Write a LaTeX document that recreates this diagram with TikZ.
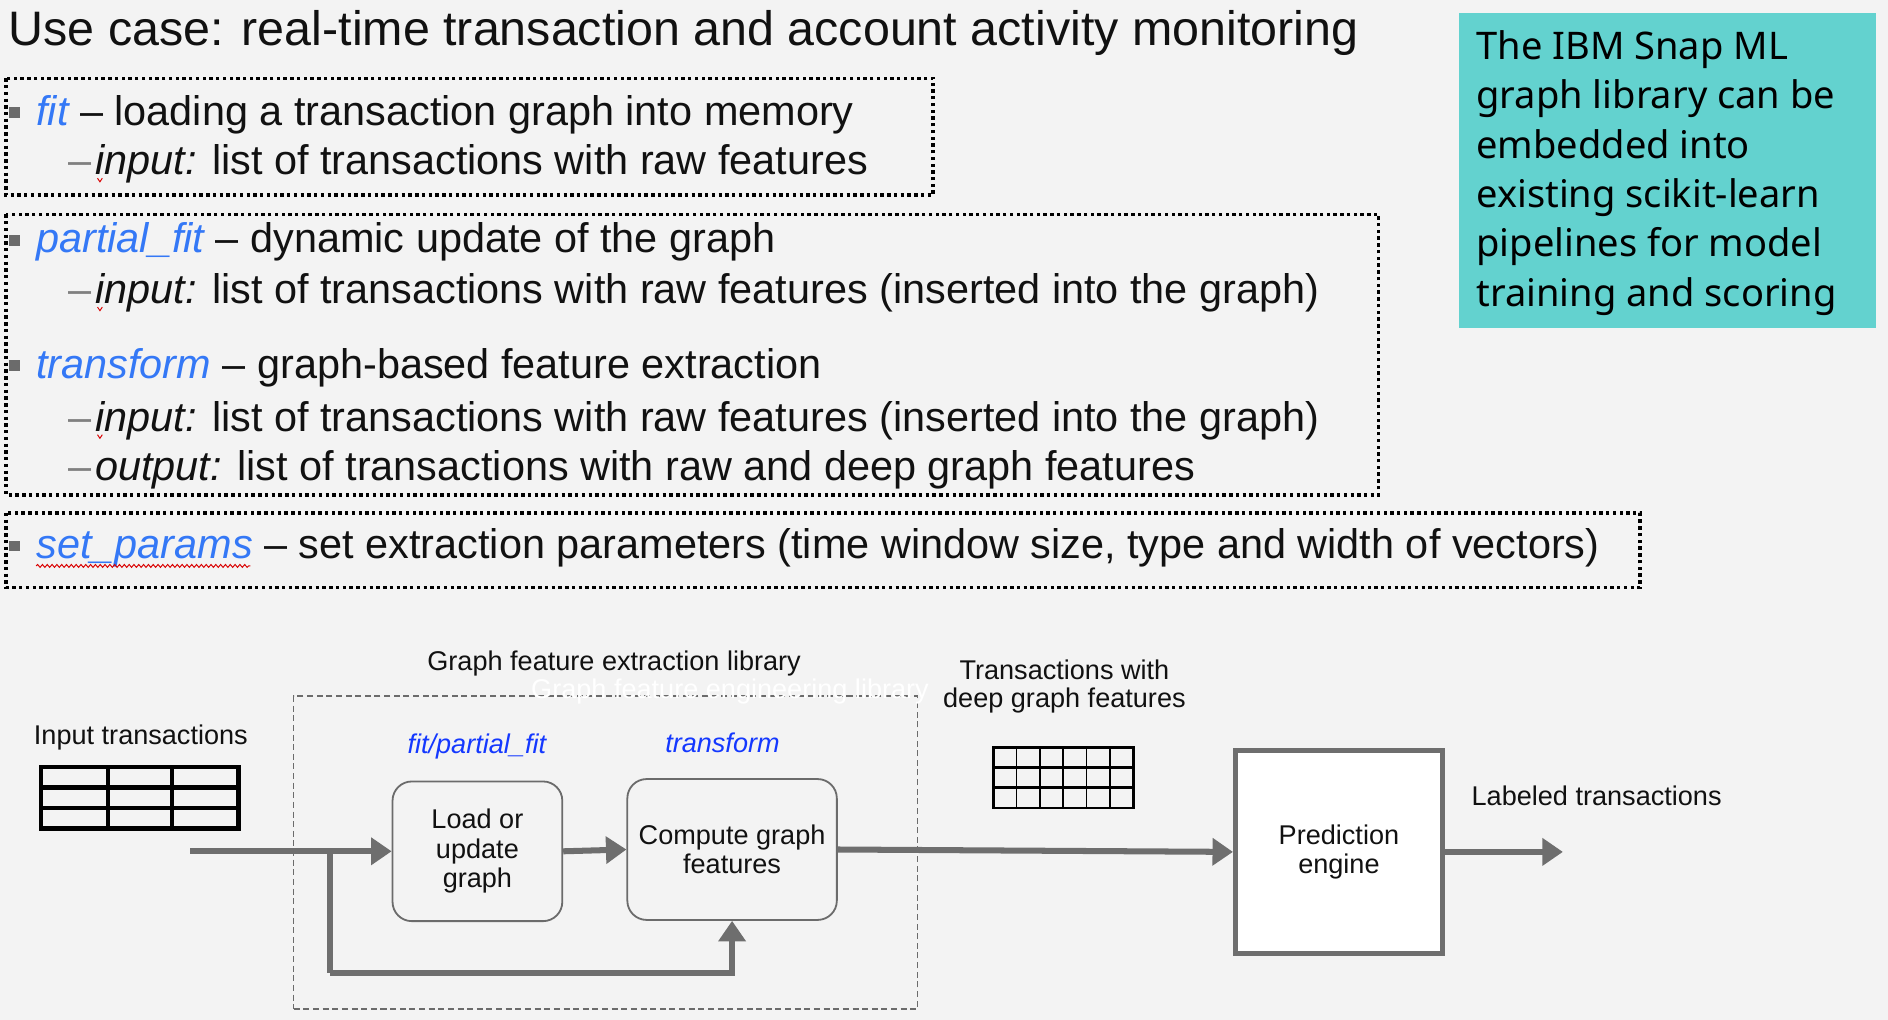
\documentclass[tikz,border=0pt]{standalone}
\usepackage{fontspec}
\setmainfont{Liberation Sans}
\newfontfamily\plexfont{Noto Sans}
\usetikzlibrary{arrows.meta,decorations.pathmorphing}
\definecolor{bg}{HTML}{F3F3F3}
\definecolor{fitblue}{HTML}{3478F6}
\definecolor{libblue}{HTML}{1438FF}
\definecolor{teal}{HTML}{63D2CF}
\definecolor{arrgray}{HTML}{6E6E6E}
\definecolor{boxgray}{HTML}{6B6B6B}
\definecolor{dashgray}{HTML}{808080}
\definecolor{ink}{HTML}{111111}
\begin{document}
\begin{tikzpicture}[x=1pt,y=-1pt,
  txt/.style={anchor=base west, inner sep=0pt, text=ink, font=\fontsize{34.4}{41}\selectfont},
  subdash/.style={anchor=base west, inner sep=0pt, text=dashgray, font=\fontsize{34.4}{41}\selectfont},
  small/.style={inner sep=0pt, text=ink, font=\fontsize{22.5}{23.5}\selectfont, align=center},
  dotbox/.style={draw=black, line width=2.8pt, dash pattern=on 2.8pt off 2.8pt},
  bulletsq/.style={fill=boxgray, draw=none},
  arr/.style={draw=arrgray, line width=5pt, -{Triangle[length=17pt,width=22pt]}},
  rbox/.style={draw=boxgray, line width=1.5pt, rounded corners=16pt, fill=bg, align=center, inner sep=0pt,
               text=ink, font=\fontsize{22.5}{24.5}\selectfont},
  spell/.style={draw=red!85!black, line width=0.8pt}
]
\path[fill=bg] (0,0) rectangle (1568,847);
\useasboundingbox (0,0) rectangle (1568,847);

% title
\node[anchor=base west, inner sep=0pt, text=ink, font=\fontsize{40.2}{48}\selectfont] (title) at (7,38)
  {Use case: real-time transaction and account activity monitoring};

% dotted boxes
\draw[dotbox] (5,65) rectangle (775,162);
\draw[dotbox] (5,178) rectangle (1145,411);
\draw[dotbox] (5,426) rectangle (1362,488);

% bullets
\foreach \yy in {104,210,314,464} \fill[bulletsq] (7.5,\yy-15) rectangle (16.5,\yy-6);

% fit
\node[txt] (fitl) at (30,104) {\textcolor{fitblue}{\itshape fit} – loading a transaction graph into memory};
\node[subdash] (d1) at (57,145) {–};
\node[txt] (in1) at (79,145) {\itshape input:\upshape{} list of transactions with raw features};

% partial_fit
\node[txt] (pfl) at (30,210) {\textcolor{fitblue}{\itshape partial\_fit} – dynamic update of the graph};
\node[subdash] (d2) at (57,252) {–};
\node[txt] (in2) at (79,252) {\itshape input:\upshape{} list of transactions with raw features (inserted into the graph)};

% transform
\node[txt] (trl) at (30,314) {\textcolor{fitblue}{\itshape transform} – graph-based feature extraction};
\node[subdash] (d3) at (57,358) {–};
\node[txt] (in3) at (79,358) {\itshape input:\upshape{} list of transactions with raw features (inserted into the graph)};
\node[subdash] (d4) at (57,399) {–};
\node[txt] (out3) at (79,399) {\itshape output:\upshape{} list of transactions with raw and deep graph features};

% set_params
\node[txt] (spl) at (30,464) {\textcolor{fitblue}{\itshape set\_params} – set extraction parameters (time window size, type and width of vectors)};
\draw[spell, decorate, decoration={snake, amplitude=1.2pt, segment length=4pt}] (30,470) -- (208,470);
\foreach \yy in {148,255,361} \draw[spell] (81,\yy) -- (83,\yy+3) -- (85,\yy);

% teal note
\fill[teal] (1212,11) rectangle (1558,272);
\node[anchor=north west, inner sep=0pt, text=black, align=left,
      font=\plexfont\fontsize{31.6}{41}\selectfont] (note) at (1226,25)
  {The IBM Snap ML\\graph library can be\\embedded into\\existing scikit-learn\\pipelines for model\\training and scoring};

% ---- bottom diagram ----
\node[draw=boxgray, line width=1pt, dash pattern=on 5pt off 3pt, minimum width=518pt, minimum height=260pt,
      inner sep=0pt] (lib) at (503,708) {};
\node[small, anchor=base] (libttl) at (510,557) {Graph feature extraction library};
\node[small, anchor=base west, text=white] (ghost) at (441,580) {Graph feature engineering library};

\node[small, anchor=base] (inlbl) at (117,618) {Input transactions};
% input table
\draw[line width=3.5pt, black] (34,637) rectangle (198,688);
\draw[line width=3.5pt, black] (89.5,637) -- (89.5,688) (143,637) -- (143,688)
   (34,654) -- (198,654) (34,671) -- (198,671);

\node[small, anchor=base, text=libblue, font=\fontsize{22.5}{23.5}\selectfont\itshape] (fitlbl) at (396,626) {fit/partial\_fit};
\node[small, anchor=base, text=libblue, font=\fontsize{22.5}{23.5}\selectfont\itshape] (trlbl) at (600,625) {transform};

\node[rbox, minimum width=141pt, minimum height=116pt] (load) at (396.5,707) {Load or\\update\\graph};
\node[rbox, minimum width=174pt, minimum height=117pt] (comp) at (608,705.5) {Compute graph\\features};

\node[small] (twlbl) at (884,570) {Transactions with\\deep graph features};
% feature table
\draw[line width=2.4pt, black] (825,621) rectangle (941,671);
\draw[line width=2.4pt, black] (825,637.5) -- (941,637.5) (825,654) -- (941,654);
\foreach \i in {1,...,5} \draw[line width=1.4pt, black] (825+\i*19.33,621) -- (825+\i*19.33,671);

\node[draw=arrgray, line width=4pt, fill=white, minimum width=172pt, minimum height=169pt, inner sep=0pt,
      align=center, text=ink, font=\fontsize{22.5}{23.5}\selectfont] (pred) at (1112,707.5) {Prediction\\engine};

\node[small, anchor=base west] (lablbl) at (1222,669) {Labeled transactions};

% connectors
\coordinate (src) at (158,707);
\coordinate (split) at (274,707);
\coordinate (low) at (274,808);
\coordinate (sink) at (1298,707.5);
\draw[arr] (src) -- (load.west);
\draw[arr] (load.east) -- (comp.west);
\draw[draw=arrgray, line width=5pt] (split) -- (low);
\draw[arr] (low) -| (comp.south);
\draw[arr] (comp.east) -- (pred.west);
\draw[arr] (pred.east) -- (sink);
\end{tikzpicture}
\end{document}
